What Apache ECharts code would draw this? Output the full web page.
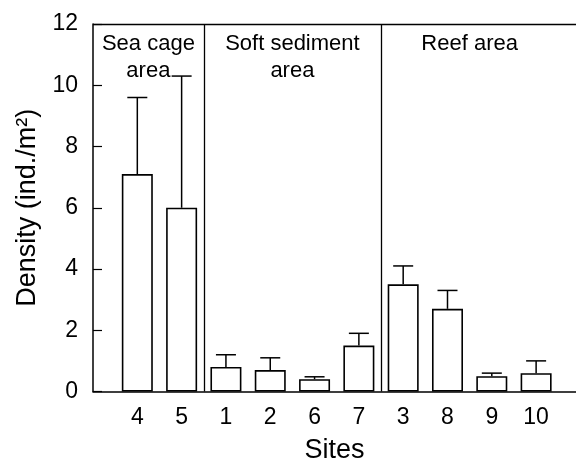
<!DOCTYPE html>
<html>
<head>
<meta charset="utf-8">
<script src="https://cdn.jsdelivr.net/npm/echarts@6/dist/echarts.min.js"></script>
<style>
  html, body { margin: 0; padding: 0; background: #fff; }
  #chart { width: 576px; height: 468px; }
</style>
</head>
<body>
<div id="chart"></div>
<script>
// ---- data ----
const sites = ['4', '5', '1', '2', '6', '7', '3', '8', '9', '10'];
const density = [7.1, 6.0, 0.8, 0.7, 0.4, 1.5, 3.5, 2.7, 0.5, 0.6];
const densitySE = [2.5, 4.3, 0.4, 0.4, 0.08, 0.4, 0.6, 0.6, 0.1, 0.4];
const areaNames = ['Sea cage\narea', 'Soft sediment\narea', 'Reef area'];
const areaSizes = [2, 4, 4];
const yTicks = [0, 2, 4, 6, 8, 10, 12];

// ---- build ----
const FONT = '"Liberation Sans", Arial, Helvetica, sans-serif';
const xMin = -1, xMax = 9.9;

// area boundaries in category index units
const bounds = [];
let acc = -0.5;
areaSizes.forEach(n => { bounds.push([acc, acc + n]); acc += n; });
bounds[0][0] = xMin;

const dividers = bounds.slice(1).map(b => ({ xAxis: b[0] }));

const areaData = areaNames.map((name, k) => [
  { name: name, xAxis: bounds[k][0], yAxis: yTicks[yTicks.length - 1] },
  { xAxis: bounds[k][1], yAxis: yTicks[0] }
]);

const barData = density.map((v, i) => [i, v]);
const errData = density.map((v, i) => [i, v, densitySE[i]]);

const chart = echarts.init(document.getElementById('chart'), null, { renderer: 'canvas' });

chart.setOption({
  animation: false,
  backgroundColor: '#ffffff',
  textStyle: { fontFamily: FONT, color: '#000' },
  grid: { left: 93, right: 0, top: 24, bottom: 76.5, containLabel: false, outerBoundsMode: 'none' },
  xAxis: {
    type: 'value',
    min: xMin,
    max: xMax,
    interval: 1,
    name: 'Sites',
    nameLocation: 'middle',
    nameGap: 46,
    nameTextStyle: { fontSize: 27, color: '#000', fontFamily: FONT },
    axisLine: { show: true, onZero: false, lineStyle: { color: '#000', width: 1.5 } },
    axisTick: { show: false },
    splitLine: { show: false },
    axisLabel: {
      fontSize: 23,
      color: '#000',
      margin: 15,
      fontFamily: FONT,
      showMaxLabel: false,
      formatter: v => (Number.isInteger(v) && v >= 0 && v < sites.length) ? sites[v] : ''
    }
  },
  yAxis: {
    type: 'value',
    min: yTicks[0],
    max: yTicks[yTicks.length - 1],
    interval: yTicks[1] - yTicks[0],
    name: 'Density (ind./m²)',
    nameLocation: 'middle',
    nameGap: 46,
    nameTextStyle: { fontSize: 27, color: '#000', fontFamily: FONT },
    axisLine: { show: true, onZero: false, lineStyle: { color: '#000', width: 1.5 } },
    axisTick: { show: true, inside: true, length: 9, lineStyle: { color: '#000', width: 1.2 } },
    splitLine: { show: false },
    axisLabel: { fontSize: 23, color: '#000', margin: 15, fontFamily: FONT }
  },
  series: [
    {
      type: 'bar',
      data: barData,
      barWidth: 31,
      itemStyle: { color: '#ffffff', borderColor: '#000', borderWidth: 1.6 },
      z: 3,
      markLine: {
        silent: true,
        symbol: 'none',
        label: { show: false },
        lineStyle: { color: '#000', width: 1.3, type: 'solid' },
        data: dividers.concat([{ yAxis: yTicks[yTicks.length - 1] }])
      },
      markArea: {
        silent: true,
        itemStyle: { color: 'rgba(0,0,0,0)' },
        label: {
          show: true,
          position: 'insideTop',
          distance: 6,
          fontSize: 22,
          lineHeight: 27,
          color: '#000',
          fontFamily: FONT
        },
        data: areaData
      }
    },
    {
      type: 'custom',
      data: errData,
      z: 4,
      renderItem: function (params, api) {
        const x = api.value(0), y = api.value(1), e = api.value(2);
        const base = api.coord([x, y]);
        const top = api.coord([x, y + e]);
        const half = 10;
        const style = { stroke: '#000', lineWidth: 1.5, fill: null };
        return {
          type: 'group',
          children: [
            { type: 'line', shape: { x1: base[0], y1: base[1], x2: top[0], y2: top[1] }, style: style },
            { type: 'line', shape: { x1: top[0] - half, y1: top[1], x2: top[0] + half, y2: top[1] }, style: style }
          ]
        };
      }
    }
  ]
});
</script>
</body>
</html>
